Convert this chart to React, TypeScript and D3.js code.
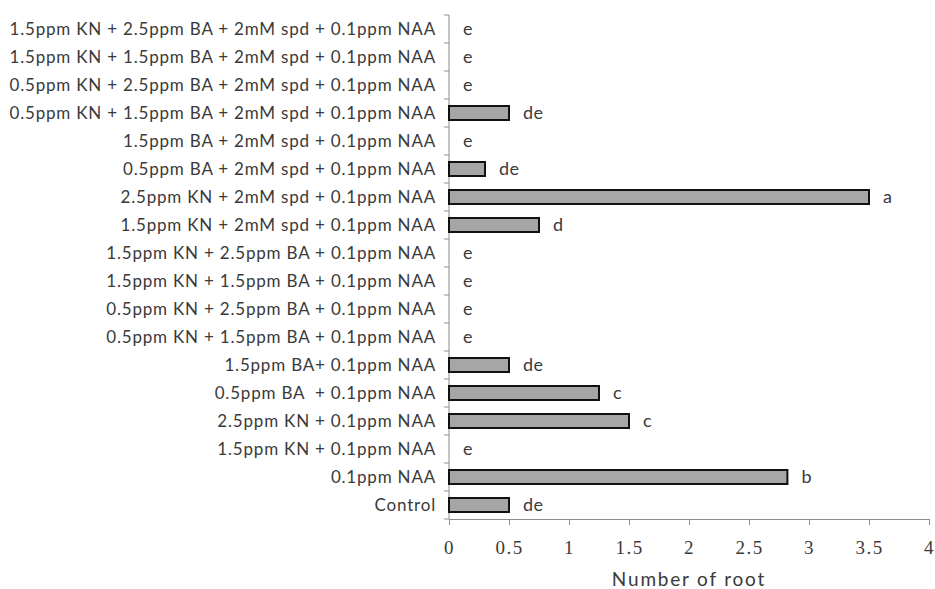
import React, { useEffect, useRef } from 'react';
import * as d3 from 'd3';

// categories listed bottom to top as in the chart
const treatments = [
  'Control',
  '0.1ppm NAA',
  '1.5ppm KN + 0.1ppm NAA',
  '2.5ppm KN + 0.1ppm NAA',
  '0.5ppm BA  + 0.1ppm NAA',
  '1.5ppm BA+ 0.1ppm NAA',
  '0.5ppm KN + 1.5ppm BA + 0.1ppm NAA',
  '0.5ppm KN + 2.5ppm BA + 0.1ppm NAA',
  '1.5ppm KN + 1.5ppm BA + 0.1ppm NAA',
  '1.5ppm KN + 2.5ppm BA + 0.1ppm NAA',
  '1.5ppm KN + 2mM spd + 0.1ppm NAA',
  '2.5ppm KN + 2mM spd + 0.1ppm NAA',
  '0.5ppm BA + 2mM spd + 0.1ppm NAA',
  '1.5ppm BA + 2mM spd + 0.1ppm NAA',
  '0.5ppm KN + 1.5ppm BA + 2mM spd + 0.1ppm NAA',
  '0.5ppm KN + 2.5ppm BA + 2mM spd + 0.1ppm NAA',
  '1.5ppm KN + 1.5ppm BA + 2mM spd + 0.1ppm NAA',
  '1.5ppm KN + 2.5ppm BA + 2mM spd + 0.1ppm NAA',
];
const rootNumber = [0.5, 2.82, 0, 1.5, 1.25, 0.5, 0, 0, 0, 0, 0.75, 3.5, 0.3, 0, 0.5, 0, 0, 0];
const letters = ['de', 'b', 'e', 'c', 'c', 'de', 'e', 'e', 'e', 'e', 'd', 'a', 'de', 'e', 'de', 'e', 'e', 'e'];
const xTicks = [0, 0.5, 1, 1.5, 2, 2.5, 3, 3.5, 4];

export default function App() {
  const ref = useRef<SVGSVGElement>(null);

  useEffect(() => {
    const svg = d3.select(ref.current);
    svg.selectAll('*').remove();

    const left = 449, right = 929, top = 15, bottom = 519;

    const x = d3.scaleLinear().domain([0, 4]).range([left, right]);
    const y = d3.scaleBand().domain(treatments).range([bottom, top]).paddingInner(0.5).paddingOuter(0.25);

    const labelFont = 'Lato, "Liberation Sans", sans-serif';

    // x axis
    const xAxis = svg.append('g').attr('transform', `translate(0,${bottom})`)
      .call(d3.axisBottom(x).tickValues(xTicks).tickSize(6).tickSizeOuter(0).tickFormat(d => String(d)));
    xAxis.select('.domain').attr('stroke', '#8c8c8c');
    xAxis.selectAll('.tick line').attr('stroke', '#8c8c8c');
    xAxis.selectAll('.tick text')
      .attr('font-family', '"Liberation Serif", serif')
      .attr('font-size', 19)
      .attr('letter-spacing', 1.5)
      .attr('fill', '#3a3a3a')
      .attr('y', 35)
      .attr('dy', 0);

    // y axis line and ticks between categories
    svg.append('line')
      .attr('x1', left).attr('x2', left).attr('y1', top).attr('y2', bottom)
      .attr('stroke', '#8c8c8c');
    const step = y.step();
    svg.append('g').selectAll('line').data(d3.range(treatments.length + 1)).join('line')
      .attr('x1', left - 5).attr('x2', left)
      .attr('y1', i => bottom - i * step).attr('y2', i => bottom - i * step)
      .attr('stroke', '#8c8c8c');

    // category labels
    svg.append('g').selectAll('text').data(treatments).join('text')
      .attr('x', left - 13)
      .attr('y', d => (y(d) as number) + y.bandwidth() / 2)
      .attr('dy', '0.36em')
      .attr('text-anchor', 'end')
      .attr('font-family', labelFont)
      .attr('font-size', 17)
      .attr('letter-spacing', 0.8)
      .attr('fill', '#3a3a3a')
      .style('white-space', 'pre')
      .text(d => d);

    // bars
    svg.append('g').selectAll('rect').data(treatments).join('rect')
      .attr('x', x(0))
      .attr('y', d => y(d) as number)
      .attr('width', (d, i) => x(rootNumber[i]) - x(0))
      .attr('height', y.bandwidth())
      .attr('fill', '#a6a6a6')
      .attr('stroke', '#111')
      .attr('stroke-width', 2)
      .style('display', (d, i) => (rootNumber[i] > 0 ? null : 'none'));

    // significance letters
    svg.append('g').selectAll('text').data(treatments).join('text')
      .attr('x', (d, i) => x(rootNumber[i]) + 14)
      .attr('y', d => (y(d) as number) + y.bandwidth() / 2)
      .attr('dy', '0.36em')
      .attr('font-family', labelFont)
      .attr('font-size', 18)
      .attr('letter-spacing', 0.5)
      .attr('fill', '#3a3a3a')
      .text((d, i) => letters[i]);

    // axis title
    svg.append('text')
      .attr('x', (left + right) / 2)
      .attr('y', 586)
      .attr('text-anchor', 'middle')
      .attr('font-family', labelFont)
      .attr('font-size', 19)
      .attr('letter-spacing', 1.8)
      .attr('fill', '#3a3a3a')
      .text('Number of root');
  }, []);

  return (
    <svg ref={ref} width={935} height={589}
      style={{ position: 'absolute', top: 0, left: 0, background: '#fff' }} />
  );
}
